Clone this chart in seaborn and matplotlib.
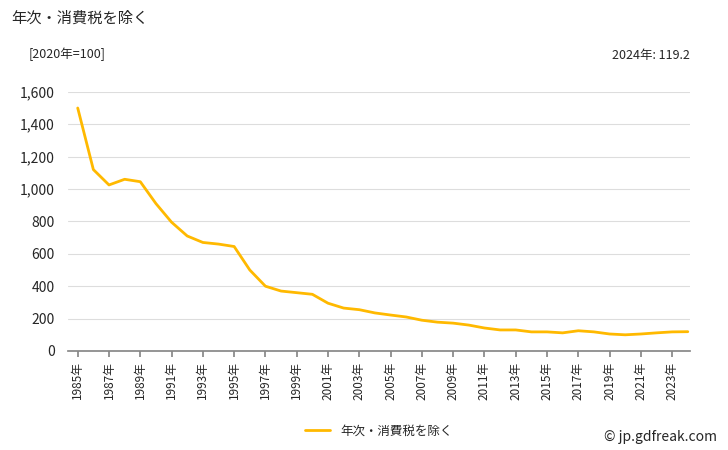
import matplotlib
matplotlib.use("Agg")
import matplotlib.pyplot as plt
import seaborn as sns
import pandas as pd

years = list(range(1985, 2025))
values = [1500, 1120, 1025, 1060, 1045, 910, 795, 710, 670, 660, 645, 500, 400, 370, 360, 350,
          295, 265, 255, 235, 222, 210, 190, 178, 172, 160, 142, 130, 130, 118, 118, 112, 125,
          118, 105, 100, 105, 112, 118, 119.2]
series_name = "年次・消費税を除く"

sns.set_theme(style="white")
plt.rcParams['font.family'] = ['Noto Sans CJK JP', 'DejaVu Sans']

df = pd.DataFrame({"year": years, "value": values, "s": series_name})
fig = plt.figure(figsize=(7.28, 4.5), dpi=100)
ax = fig.add_axes([0.093, 0.22, 0.855, 0.576])
sns.lineplot(data=df, x="year", y="value", hue="s", palette=["#FFB900"], linewidth=2, ax=ax)
ax.set_xlim(1984.36, 2024.15)
ax.set_ylim(0, 1600)
ax.set_yticks(range(0, 1601, 200))
ax.set_yticklabels([f"{v:,}" for v in range(0, 1601, 200)], fontsize=10)
ax.set_xticks(years[::2])
ax.set_xticklabels([f"{y}年" for y in years[::2]], rotation=90, fontsize=8.5)
ax.tick_params(axis='x', length=4, color='#888888', bottom=True)
ax.grid(axis='y', color='#dddddd', linewidth=0.8)
for s in ["top", "right", "left"]:
    ax.spines[s].set_visible(False)
ax.spines["bottom"].set_color('#888888')
ax.set_xlabel("")
ax.set_ylabel("")
ax.legend(loc="upper center", bbox_to_anchor=(0.5, -0.24), frameon=False, fontsize=9,
          handlelength=2)
fig.text(0.015, 0.95, "年次・消費税を除く", fontsize=11)
fig.text(0.04, 0.87, "[2020年=100]", fontsize=9)
fig.text(0.948, 0.87, "2024年: 119.2", fontsize=9, ha="right")
fig.text(0.985, 0.02, "© jp.gdfreak.com", fontsize=10, ha="right")
fig.savefig("out.png", dpi=100)
